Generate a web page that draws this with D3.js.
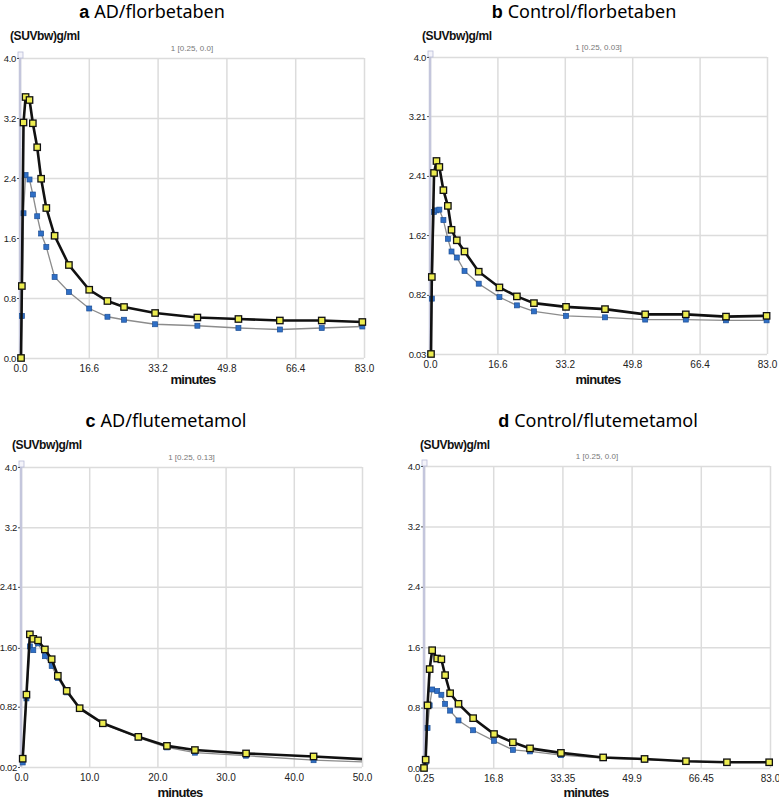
<!DOCTYPE html>
<html>
<head>
<meta charset="utf-8">
<script src="https://d3js.org/d3.v7.min.js"></script>
<style>
  body { margin: 0; background: #fff; }
  text { font-family: "Liberation Sans", Arial, sans-serif; }
</style>
</head>
<body>
<div id="chart"></div>
<script>
// ---- data ----
var aTimes  = [0.25, 0.45, 0.85, 1.35, 2.3, 3.1, 4.15, 5.1, 6.35, 8.35, 11.8, 16.7, 21.1, 25.1, 32.6, 42.8, 52.7, 62.7, 72.8, 82.6];
var aYellow = [0.0, 0.96, 3.14, 3.48, 3.44, 3.13, 2.81, 2.39, 2.0, 1.63, 1.24, 0.91, 0.76, 0.68, 0.60, 0.54, 0.52, 0.50, 0.50, 0.48];
var aBlue   = [0.0, 0.56, 1.93, 2.44, 2.38, 2.18, 1.89, 1.66, 1.48, 1.08, 0.88, 0.66, 0.55, 0.51, 0.45, 0.43, 0.40, 0.38, 0.40, 0.42];

var bTimes  = [0.25, 0.45, 1.0, 1.6, 2.3, 3.3, 4.4, 5.3, 6.6, 8.5, 12.0, 17.1, 21.4, 25.6, 33.5, 43.1, 53.0, 63.0, 72.9, 82.9];
var bYellow = [0.03, 1.06, 2.45, 2.61, 2.53, 2.22, 2.01, 1.69, 1.55, 1.40, 1.13, 0.92, 0.80, 0.71, 0.66, 0.63, 0.56, 0.56, 0.53, 0.54];
var bBlue   = [0.03, 0.77, 1.93, 1.95, 1.96, 1.82, 1.57, 1.40, 1.32, 1.14, 0.97, 0.79, 0.68, 0.60, 0.54, 0.52, 0.49, 0.49, 0.48, 0.48];

var cTimes  = [0.25, 0.8, 1.3, 1.8, 2.5, 3.5, 4.5, 5.4, 6.7, 8.6, 12.0, 17.2, 21.4, 25.5, 33.0, 42.9, 53.0];
var cYellow = [0.13, 0.98, 1.78, 1.72, 1.70, 1.58, 1.45, 1.23, 1.03, 0.80, 0.60, 0.42, 0.30, 0.245, 0.20, 0.16, 0.11];
var cBlue   = [0.08, 0.93, 1.62, 1.57, 1.66, 1.49, 1.36, 1.20, 1.01, 0.79, 0.59, 0.41, 0.28, 0.21, 0.17, 0.11, 0.08];

var dTimes  = [0.25, 0.65, 1.1, 1.6, 2.2, 3.4, 4.4, 5.3, 6.5, 8.5, 12.0, 17.0, 21.5, 25.6, 33.0, 43.1, 53.0, 62.9, 72.7, 82.8];
var dYellow = [0.0, 0.11, 0.83, 1.31, 1.56, 1.45, 1.44, 1.23, 0.99, 0.85, 0.66, 0.45, 0.34, 0.26, 0.20, 0.14, 0.12, 0.09, 0.076, 0.076];
var dBlue   = [0.0, 0.08, 0.53, 0.83, 1.04, 1.02, 0.97, 0.85, 0.76, 0.63, 0.50, 0.36, 0.24, 0.22, 0.17, 0.13, 0.11, 0.09, 0.075, 0.075];

// tick labels
var xTicksA = ["0.0", "16.6", "33.2", "49.8", "66.4", "83.0"];
var xTicksC = ["0.0", "10.0", "20.0", "30.0", "40.0", "50.0"];
var xTicksD = ["0.25", "16.8", "33.35", "49.9", "66.45", "83.0"];
var yTicksA = ["0.0", "0.8", "1.6", "2.4", "3.2", "4.0"];
var yTicksB = ["0.03", "0.82", "1.62", "2.41", "3.21", "4.0"];
var yTicksC = ["0.02", "0.82", "1.60", "2.41", "3.2", "4.0"];

var panels = [
  { id: "a", letter: "a", name: "AD/florbetaben", caption: "1 [0.25, 0.0]",
    t: aTimes, yel: aYellow, blu: aBlue, xt: xTicksA, yt: yTicksA,
    box: [20, 364, 58, 358], titleX: 152, titleY: 18, unitX: 10, unitY: 40, minX: 193, minY: 384 },
  { id: "b", letter: "b", name: "Control/florbetaben", caption: "1 [0.25, 0.03]",
    t: bTimes, yel: bYellow, blu: bBlue, xt: xTicksA, yt: yTicksB,
    box: [430, 767, 57, 354], titleX: 584, titleY: 18, unitX: 422, unitY: 40, minX: 598, minY: 384 },
  { id: "c", letter: "c", name: "AD/flutemetamol", caption: "1 [0.25, 0.13]",
    t: cTimes, yel: cYellow, blu: cBlue, xt: xTicksC, yt: yTicksC,
    box: [21, 362, 467, 767], titleX: 166, titleY: 427, unitX: 12, unitY: 449, minX: 180, minY: 797 },
  { id: "d", letter: "d", name: "Control/flutemetamol", caption: "1 [0.25, 0.0]",
    t: dTimes, yel: dYellow, blu: dBlue, xt: xTicksD, yt: yTicksA,
    box: [424, 770, 466, 768], titleX: 598, titleY: 427, unitX: 420, unitY: 449, minX: 586, minY: 797 }
];

var svg = d3.select("#chart").append("svg")
  .attr("width", 779).attr("height", 801);

var defs = svg.append("defs");

panels.forEach(function(p) {
  var L = p.box[0], R = p.box[1], T = p.box[2], B = p.box[3];
  var xv = p.xt.map(Number), yv = p.yt.map(Number);

  var x = d3.scaleLinear().domain([xv[0], xv[xv.length - 1]]).range([L, R]);
  var y = d3.scaleLinear().domain([yv[0], yv[yv.length - 1]]).range([B, T]);

  var g = svg.append("g");

  // title
  var title = g.append("text")
    .attr("x", p.titleX).attr("y", p.titleY)
    .attr("text-anchor", "middle")
    .style("font-size", "18px");
  title.append("tspan").text(p.letter + " ")
    .style("font-weight", "bold").style("font-family", "Liberation Sans, Arial, sans-serif");
  title.append("tspan").text(p.name)
    .style("font-family", "Noto Sans, Open Sans, sans-serif");

  // unit label
  g.append("text")
    .attr("x", p.unitX).attr("y", p.unitY)
    .style("font-size", "12px").style("font-weight", "bold")
    .style("letter-spacing", "-0.4px").attr("fill", "#111")
    .text("(SUVbw)g/ml");

  // caption
  g.append("text")
    .attr("x", (L + R) / 2).attr("y", T - 7)
    .attr("text-anchor", "middle")
    .style("font-size", "8px").attr("fill", "#777")
    .text(p.caption);

  // grid
  g.append("g")
    .attr("transform", "translate(0," + B + ")")
    .call(d3.axisBottom(x).tickValues(xv).tickSize(-(B - T)).tickFormat(""))
    .call(function(s) {
      s.select(".domain").remove();
      s.selectAll("line").attr("stroke", "#dcdcdc").attr("stroke-width", 1.5);
    });
  g.append("g")
    .attr("transform", "translate(" + L + ",0)")
    .call(d3.axisLeft(y).tickValues(yv).tickSize(-(R - L)).tickFormat(""))
    .call(function(s) {
      s.select(".domain").remove();
      s.selectAll("line").attr("stroke", "#dcdcdc").attr("stroke-width", 1.5);
    });

  // left axis line
  g.append("line")
    .attr("x1", L).attr("x2", L).attr("y1", T).attr("y2", B)
    .attr("stroke", "#c4c6dc").attr("stroke-width", 2.5);
  g.append("rect")
    .attr("x", L - 2).attr("y", T - 6).attr("width", 5).attr("height", 6)
    .attr("fill", "#f4f4fa").attr("stroke", "#b8bcd8").attr("stroke-width", 0.8);

  // y tick labels
  g.append("g")
    .attr("transform", "translate(" + (L - 1) + ",0)")
    .call(d3.axisLeft(y).tickValues(yv).tickSize(2).tickPadding(1)
      .tickFormat(function(d, i) { return p.yt[i]; }))
    .call(function(s) {
      s.select(".domain").remove();
      s.selectAll("line").attr("stroke", "#555");
      s.selectAll("text").style("font-size", "9.5px").attr("fill", "#222")
        .style("letter-spacing", "-0.3px")
        .style("font-family", "Liberation Sans, Arial, sans-serif");
    });

  // x tick labels
  g.append("g")
    .attr("transform", "translate(0," + B + ")")
    .call(d3.axisBottom(x).tickValues(xv).tickSize(0).tickPadding(7)
      .tickFormat(function(d, i) { return p.xt[i]; }))
    .call(function(s) {
      s.select(".domain").remove();
      s.selectAll("text").style("font-size", "10px").attr("fill", "#222")
        .style("font-family", "Liberation Sans, Arial, sans-serif");
    });

  // x axis title
  g.append("text")
    .attr("x", p.minX).attr("y", p.minY)
    .attr("text-anchor", "middle")
    .style("font-size", "13px").style("font-weight", "bold")
    .style("letter-spacing", "-0.7px").attr("fill", "#111")
    .text("minutes");

  // clips
  defs.append("clipPath").attr("id", "lc" + p.id).append("rect")
    .attr("x", L - 6).attr("y", T - 6).attr("width", R - L + 6).attr("height", B - T + 12);
  defs.append("clipPath").attr("id", "mc" + p.id).append("rect")
    .attr("x", L - 6).attr("y", T - 6).attr("width", R - L + 11).attr("height", B - T + 12);

  var blueData = p.t.map(function(t, i) { return [t, p.blu[i]]; });
  var yelData = p.t.map(function(t, i) { return [t, p.yel[i]]; });
  var line = d3.line().x(function(d) { return x(d[0]); }).y(function(d) { return y(d[1]); });

  // blue series
  g.append("path").datum(blueData)
    .attr("clip-path", "url(#lc" + p.id + ")")
    .attr("d", line).attr("fill", "none")
    .attr("stroke", "#8c8c8c").attr("stroke-width", 1.3);
  g.append("g").attr("clip-path", "url(#mc" + p.id + ")")
    .selectAll("rect").data(blueData).enter().append("rect")
    .attr("x", function(d) { return x(d[0]) - 2.5; })
    .attr("y", function(d) { return y(d[1]) - 2.5; })
    .attr("width", 5).attr("height", 5)
    .attr("fill", "#2f6fc6").attr("stroke", "#1d4f95").attr("stroke-width", 0.7);

  // yellow series
  g.append("path").datum(yelData)
    .attr("clip-path", "url(#lc" + p.id + ")")
    .attr("d", line).attr("fill", "none")
    .attr("stroke", "#111").attr("stroke-width", 2.6);
  g.append("g").attr("clip-path", "url(#mc" + p.id + ")")
    .selectAll("rect").data(yelData).enter().append("rect")
    .attr("x", function(d) { return x(d[0]) - 3.2; })
    .attr("y", function(d) { return y(d[1]) - 3.2; })
    .attr("width", 6.4).attr("height", 6.4)
    .attr("fill", "#ecec50").attr("stroke", "#111").attr("stroke-width", 1.3);
});
</script>
</body>
</html>
